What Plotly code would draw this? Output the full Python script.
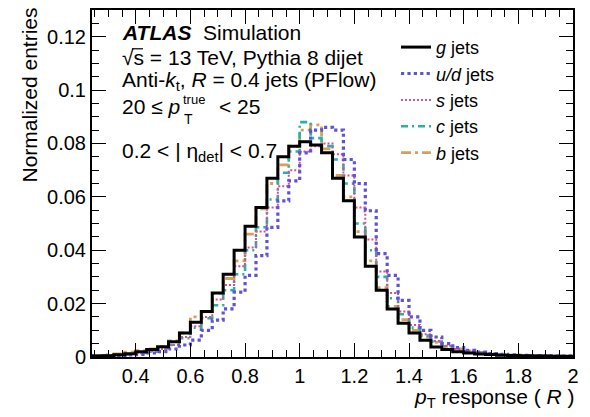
import numpy as np
import plotly.graph_objects as go

# bin edges (width 0.04)
edges = np.round(np.arange(0.24, 2.0001, 0.04), 2)

g_jets = [0.0004,0.0005,0.0008,0.0012,0.0020,0.0028,0.0038,0.0057,0.0090,0.0130,0.0170,0.0240,0.0310,0.0400,0.0490,0.0560,0.0670,0.0750,0.0790,0.0806,0.0794,0.0765,0.0670,0.0585,0.0450,0.0340,0.0250,0.0180,0.0126,0.0090,0.0063,0.0037,0.0028,0.0020,0.0015,0.0011,0.0009,0.0007,0.0006,0.0005,0.0004,0.0004,0.0003,0.0003]
ud_jets = [0.0003,0.0004,0.0005,0.0008,0.0010,0.0015,0.0020,0.0030,0.0045,0.0063,0.0100,0.0138,0.0180,0.0243,0.0306,0.0380,0.0486,0.0585,0.0660,0.0765,0.0850,0.0860,0.0850,0.0740,0.0650,0.0548,0.0387,0.0306,0.0212,0.0150,0.0100,0.0075,0.0050,0.0035,0.0025,0.0018,0.0013,0.0010,0.0008,0.0006,0.0005,0.0004,0.0003,0.0003]
s_jets = [0.0004,0.0005,0.0007,0.0010,0.0016,0.0022,0.0030,0.0045,0.0075,0.0115,0.0150,0.0215,0.0270,0.0340,0.0410,0.0470,0.0560,0.0640,0.0700,0.0770,0.0790,0.0800,0.0760,0.0680,0.0560,0.0440,0.0320,0.0240,0.0170,0.0120,0.0085,0.0060,0.0042,0.0030,0.0022,0.0016,0.0012,0.0009,0.0007,0.0006,0.0005,0.0004,0.0003,0.0003]
c_jets = [0.0004,0.0005,0.0007,0.0010,0.0015,0.0020,0.0030,0.0045,0.0070,0.0110,0.0145,0.0194,0.0250,0.0310,0.0400,0.0486,0.0590,0.0690,0.0770,0.0880,0.0820,0.0790,0.0740,0.0650,0.0500,0.0400,0.0300,0.0220,0.0160,0.0110,0.0080,0.0058,0.0040,0.0030,0.0022,0.0016,0.0012,0.0009,0.0007,0.0006,0.0005,0.0004,0.0003,0.0003]
b_jets = [0.0006,0.0008,0.0012,0.0018,0.0024,0.0030,0.0040,0.0060,0.0090,0.0150,0.0169,0.0238,0.0294,0.0360,0.0460,0.0555,0.0650,0.0720,0.0790,0.0850,0.0870,0.0780,0.0680,0.0600,0.0470,0.0360,0.0260,0.0190,0.0140,0.0100,0.0075,0.0055,0.0040,0.0030,0.0023,0.0017,0.0013,0.0010,0.0008,0.0006,0.0005,0.0004,0.0004,0.0003]

series_names = ["<i>g</i> jets", "<i>u/d</i> jets", "<i>s</i> jets", "<i>c</i> jets", "<i>b</i> jets"]
series_vals = [g_jets, ud_jets, s_jets, c_jets, b_jets]
colors = ["#000000", "#5f52d6", "#d9508c", "#26b2a6", "#d6a05a"]
dashes = ["solid", "dot", "2px,2px", "7px,4px,2px,4px", "10px,4px,3px,4px"]
widths = [3, 3.2, 2, 2.6, 2.8]

FONT = "Liberation Sans, Arial, sans-serif"
FS = 21
TFS = 20

fig = go.Figure()
# draw in reverse so g is on top
for name, vals, col, dash, w in list(zip(series_names, series_vals, colors, dashes, widths))[::-1]:
    x = list(edges)
    y = list(vals) + [vals[-1]]
    fig.add_trace(go.Scatter(x=x, y=y, mode="lines", name=name,
                             line=dict(color=col, dash=dash, width=w, shape="hv")))

L, R, T, B = 92, 573, 8, 357
W, H = 590, 417

def px(xp):
    return (xp - L) / (R - L)

def py(yp):
    return (B - yp) / (B - T)

ann = []
def text(s, x, y, size=FS, xanchor="left", yanchor="middle", angle=0):
    ann.append(dict(text=s, x=px(x), y=py(y), xref="paper", yref="paper",
                    xanchor=xanchor, yanchor=yanchor, showarrow=False, textangle=angle,
                    font=dict(family=FONT, size=size, color="black")))

text("<b><i>ATLAS</i></b>  Simulation", 120, 31)
text("√s = 13 TeV, Pythia 8 dijet", 120, 56)
text("Anti-<i>k</i><sub>t</sub>, <i>R</i> = 0.4 jets (PFlow)", 120, 79)
text("20 ≤ <i>p</i>", 120, 105)
text("true", 181, 98, size=13)
text("T", 182, 118, size=14)
text("< 25", 217, 105)
text("0.2 < | η<sub>det</sub>| < 0.7", 120, 151)
text("Normalized entries", 30, 4, size=FS, xanchor="center", yanchor="top", angle=-90)
text("<i>p</i><sub>T</sub> response ( <i>R</i> )", 577, 398, xanchor="right")

fig.update_layout(
    width=W, height=H,
    margin=dict(l=L, r=W - R, t=T, b=H - B),
    paper_bgcolor="white", plot_bgcolor="white",
    font=dict(family=FONT, size=FS, color="black"),
    showlegend=True,
    legend=dict(x=px(396), y=py(27), xanchor="left", yanchor="top",
                bgcolor="rgba(0,0,0,0)", font=dict(family=FONT, size=18),
                traceorder="reversed", itemwidth=30, tracegroupgap=0),
    annotations=ann,
    shapes=[dict(type="line", xref="paper", yref="paper",
                 x0=px(132), x1=px(143), y0=py(47), y1=py(47),
                 line=dict(color="black", width=1.2))],
)
fig.update_xaxes(range=[0.24, 2.0], tick0=0, dtick=0.2, ticks="inside", ticklen=14,
                 tickwidth=1.3, tickcolor="black", showline=True, linecolor="black",
                 linewidth=2, mirror="allticks", showgrid=False, zeroline=False,
                 tickfont=dict(family=FONT, size=TFS),
                 minor=dict(ticks="inside", ticklen=7, dtick=0.05, tick0=0,
                            tickcolor="black", tickwidth=1.3, showgrid=False))
fig.update_yaxes(range=[0, 0.13], tick0=0, dtick=0.02, ticks="inside", ticklen=14,
                 tickwidth=1.3, tickcolor="black", showline=True, linecolor="black",
                 linewidth=2, mirror="allticks", showgrid=False, zeroline=False,
                 tickfont=dict(family=FONT, size=TFS),
                 minor=dict(ticks="inside", ticklen=7, dtick=0.005, tick0=0,
                            tickcolor="black", tickwidth=1.3, showgrid=False))

fig.write_html("out.html")
